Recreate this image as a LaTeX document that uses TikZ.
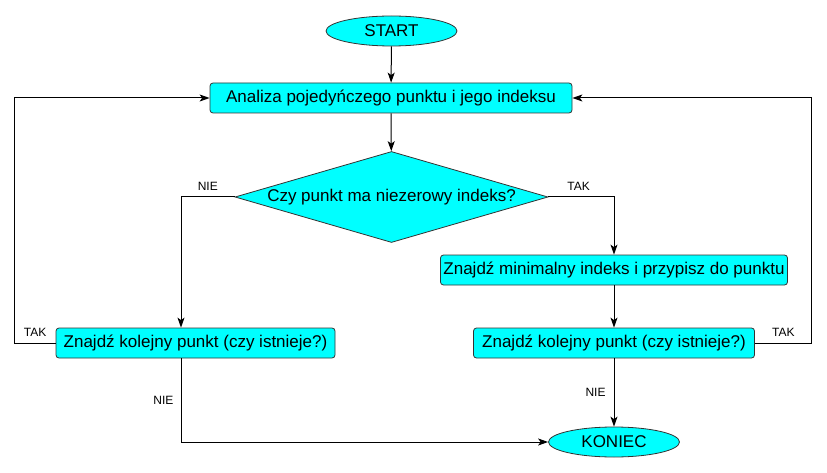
\documentclass[tikz,border=0pt]{standalone}
\usepackage{fontspec}
\setmainfont{Liberation Sans}
\usetikzlibrary{shapes.geometric,arrows.meta}
\definecolor{boxcyan}{RGB}{0,255,255}
\begin{document}
\begin{tikzpicture}[x=1pt,y=-1pt,line width=1pt,
	terminal/.style={ellipse, draw=black!80, line width=0.8pt, fill=boxcyan, minimum width=131pt, minimum height=30pt, inner sep=0pt, font=\fontsize{17}{19}\selectfont},
	process/.style={rectangle, rounded corners=3pt, draw=black!80, line width=0.8pt, fill=boxcyan, minimum height=30pt, inner sep=0pt, font=\fontsize{17}{19}\selectfont},
	decision/.style={diamond, aspect=3.44, draw=black!80, line width=0.8pt, fill=boxcyan, minimum width=313pt, minimum height=91pt, inner sep=0pt, font=\fontsize{17}{19}\selectfont},
	answer/.style={font=\fontsize{12}{14}\selectfont, inner sep=1pt},
	arrow/.style={-{Stealth[length=10pt,width=7pt,inset=2.5pt]}}]
	\useasboundingbox (0,0) rectangle (827,473);
	\node (start)		at (391.5, 31)	[terminal]						{START};
	\node (analiza)		at (391, 98)	[process, minimum width=362pt]	{Analiza pojedyńczego punktu i jego indeksu};
	\node (czy)			at (391.5,197)	[decision]						{Czy punkt ma niezerowy indeks?};
	\node (minimalny)	at (614, 270)	[process, minimum width=347pt]	{Znajdź minimalny indeks i przypisz do punktu};
	\node (kolejnyL)	at (195.5,343)	[process, minimum width=279pt]	{Znajdź kolejny punkt (czy istnieje?)};
	\node (kolejnyR)	at (614, 343)	[process, minimum width=281pt]	{Znajdź kolejny punkt (czy istnieje?)};
	\node (koniec)		at (614, 442)	[terminal]						{KONIEC};
	\draw[arrow] (start) -- (analiza);
	\draw[arrow] (analiza) -- (czy);
	\draw[arrow] (czy.west) -| node[answer, pos=0.25, above=5pt] {NIE} ([xshift=-14.5pt]kolejnyL.north);
	\draw[arrow] (czy.east) -| node[answer, pos=0.23, above=5pt] {TAK} (minimalny.north);
	\draw[arrow] (minimalny) -- (kolejnyR);
	\draw[arrow] (kolejnyL.west) -- node[answer, above=5pt] {TAK} ++(-41,0) |- (analiza.west);
	\draw[arrow] (kolejnyR.east) -- node[answer, above=5pt] {TAK} ++(57,0) |- (analiza.east);
	\draw[arrow] ([xshift=-14.5pt]kolejnyL.south) |- node[answer, pos=0.25, left=6pt] {NIE} (koniec.west);
	\draw[arrow] (kolejnyR) -- node[answer, left=7pt] {NIE} (koniec);
\end{tikzpicture}
\end{document}
